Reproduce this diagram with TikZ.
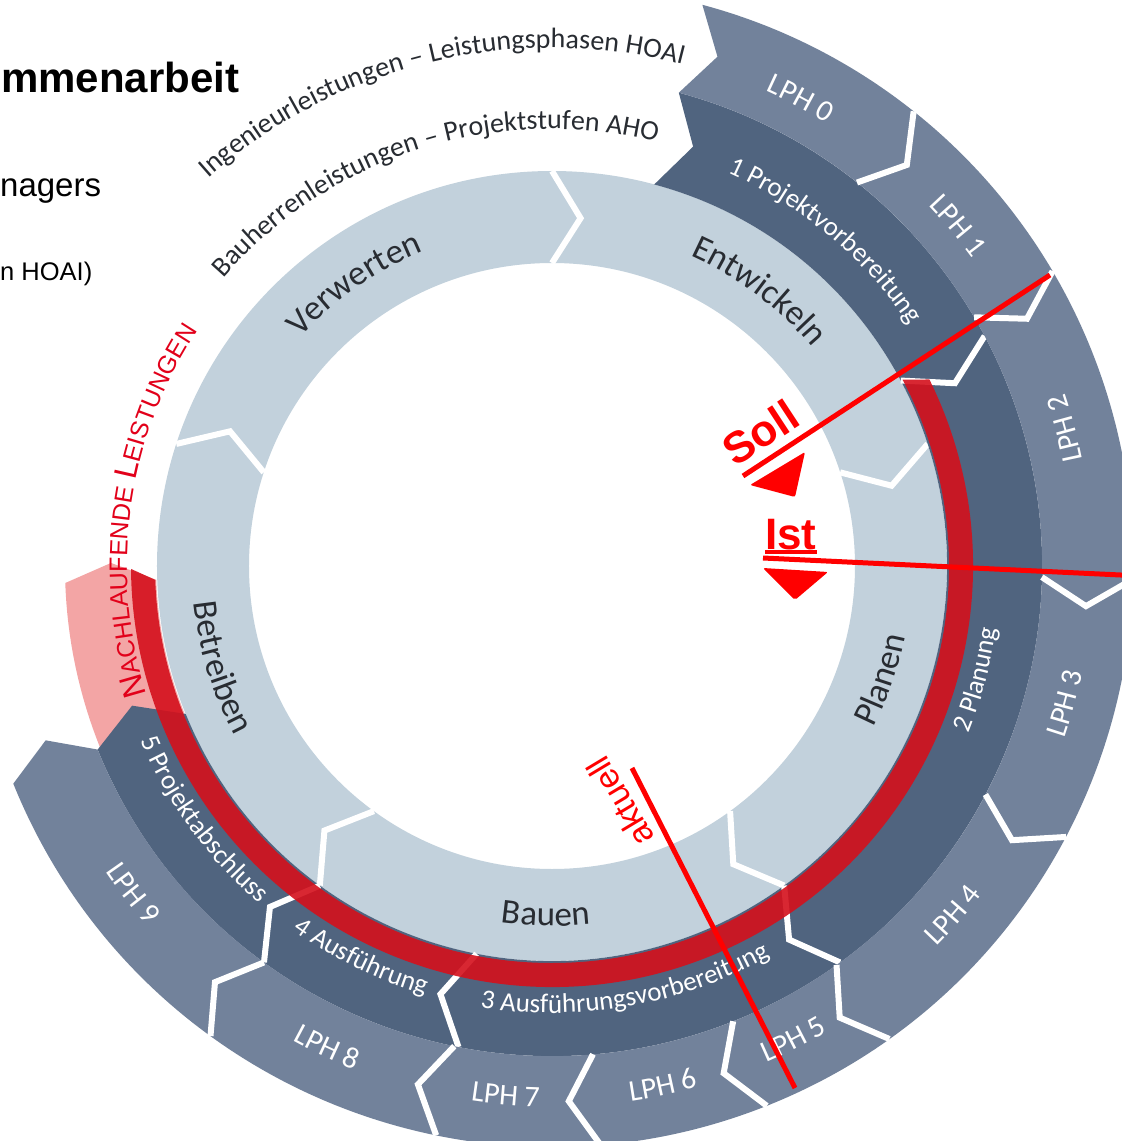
\documentclass[tikz,border=0pt]{standalone}
\usepackage{fontspec}
\setmainfont{Liberation Sans}
\newfontfamily\ringfont{Carlito}
\usetikzlibrary{decorations.text}

\definecolor{lightring}{RGB}{194,209,220}
\definecolor{darkring}{RGB}{80,100,127}
\definecolor{lphring}{RGB}{114,130,155}
\definecolor{bandred}{RGB}{212,16,28}
\definecolor{pinkzone}{RGB}{243,165,165}
\definecolor{markred}{RGB}{255,0,0}
\definecolor{labelgray}{RGB}{40,44,50}
\definecolor{nachred}{RGB}{226,0,26}

\newcommand\lightfmt{\ringfont\fontsize{35}{35}\selectfont\color{labelgray}}
\newcommand\darkfmt{\ringfont\fontsize{27}{27}\selectfont\color{white}}
\newcommand\lphfmt{\ringfont\fontsize{30}{30}\selectfont\color{white}}
\newcommand\outfmt{\ringfont\fontsize{28}{28}\selectfont\color{labelgray}}
\newcommand\nachbig{\fontsize{32}{32}\selectfont\color{nachred}}
\newcommand\nachsmall{\fontsize{25}{25}\selectfont\color{nachred}}

% radius, centre angle, half span, format, text
\newcommand\cwtext[5]{%
  \path[decorate,decoration={text along path,text align=center,text={|#4|#5}}]
    (#2+#3:#1) arc[start angle=#2+#3,end angle=#2-#3,radius=#1];}
\newcommand\ccwtext[5]{%
  \path[decorate,decoration={text along path,text align=center,text={|#4|#5}}]
    (#2-#3:#1) arc[start angle=#2-#3,end angle=#2+#3,radius=#1];}
% angle, r in, r out, tip offset
\newcommand\chevron[4]{%
  \draw[chev] (#1:#2) -- ({#1-#4}:{(#2+#3)/2}) -- (#1:#3);}

\tikzset{
  chev/.style={draw=white,line width=6pt,line join=miter,line cap=butt},
  markline/.style={draw=markred,line width=5pt},
  marktext/.style={font=\bfseries\fontsize{44}{44}\selectfont,text=markred,inner sep=0pt},
  plain/.style={anchor=base west,inner sep=0pt,text=black}
}

\begin{document}
\begin{tikzpicture}[x=1pt,y=1pt]
\useasboundingbox (-552,-575) rectangle (570,566);
\clip (-552,-575) rectangle (570,566);
\fill[white] (-552,-575) rectangle (570,566);

% title fragments
\node[plain,font=\bfseries\fontsize{42}{42}\selectfont] (title) at (-551,473) {mmenarbeit};
\node[plain,font=\fontsize{33}{33}\selectfont] (role) at (-552,369) {nagers};
\node[plain,font=\fontsize{25.5}{25.5}\selectfont] (hoai) at (-552,285) {n HOAI)};

% light ring
\fill[lightring,even odd rule] (0,0) circle[radius=395] (0,0) circle[radius=303];
\foreach \a in {90,18,-54,-126,162} {\chevron{\a}{303}{395}{4.7}}

% pink zone
\fill[pinkzone] (202:487) -- (202:396) arc[start angle=202,end angle=182,radius=396]
  -- (179.6:441) -- (182:487) arc[start angle=182,end angle=202,radius=487] -- cycle;

% dark ring (AHO)
\fill[darkring] (75:490) -- (71.4:442.5) -- (75:395) arc[start angle=75,end angle=-158,radius=395]
  -- (-161.6:442.5) -- (-158:490) arc[start angle=-158,end angle=75,radius=490] -- cycle;
\foreach \a in {28,-54,-101,-126} {\chevron{\a}{395}{490}{3.6}}

% LPH ring
\fill[lphring] (75:581) -- (72:535.5) -- (75:490) arc[start angle=75,end angle=-158,radius=490]
  -- (-161:535.5) -- (-158:581) arc[start angle=-158,end angle=75,radius=581] -- cycle;
\foreach \a in {51.5,30.5,-1.3,-27.8,-54.5,-68.3,-85.2,-101.5,-126} {\chevron{\a}{490}{581}{3}}

% red band
\fill[bandred,fill opacity=0.9] (28:397) -- (26.3:421) arc[start angle=26.3,end angle=-179.6,radius=421]
  -- (-178:397) arc[start angle=-178,end angle=28,radius=397] -- cycle;

% light ring labels
\cwtext{340}{125}{40}{\lightfmt}{Verwerten}
\cwtext{340}{53}{40}{\lightfmt}{Entwickeln}
\ccwtext{360}{-19}{40}{\lightfmt}{Planen}
\ccwtext{360}{-91}{40}{\lightfmt}{Bauen}
\ccwtext{360}{197}{40}{\lightfmt}{Betreiben}

% dark ring labels
\cwtext{431}{50}{40}{\darkfmt}{1 Projektvorbereitung}
\ccwtext{449}{-15}{40}{\darkfmt}{2 Planung}
\ccwtext{447}{-80}{40}{\darkfmt}{3 Ausführungsvorbereitung}
\ccwtext{447}{244}{40}{\darkfmt}{4 Ausführung}
\ccwtext{447}{216}{40}{\darkfmt}{5 Projektabschluss}

% LPH labels
\cwtext{521}{62}{30}{\lphfmt}{LPH 0}
\cwtext{521}{40}{30}{\lphfmt}{LPH 1}
\ccwtext{541}{15}{30}{\lphfmt}{LPH 2}
\ccwtext{541}{-15}{30}{\lphfmt}{LPH 3}
\ccwtext{541}{-41}{30}{\lphfmt}{LPH 4}
\ccwtext{541}{-63}{30}{\lphfmt}{LPH 5}
\ccwtext{541}{-78}{30}{\lphfmt}{LPH 6}
\ccwtext{541}{-95}{30}{\lphfmt}{LPH 7}
\ccwtext{541}{245}{30}{\lphfmt}{LPH 8}
\ccwtext{541}{218}{30}{\lphfmt}{LPH 9}

% outer captions
\cwtext{518}{103.5}{45}{\outfmt}{Ingenieurleistungen – Leistungsphasen HOAI}
\cwtext{437}{107.5}{45}{\outfmt}{Bauherrenleistungen – Projektstufen AHO}
\path[decorate,decoration={text along path,text align=center,
  text={|\nachbig|N|\nachsmall|ACHLAUFENDE |\nachbig|L|\nachsmall|EISTUNGEN}}]
  (212:425) arc[start angle=212,end angle=132,radius=425];

% Soll
\coordinate (sollEnd) at (498,291);
\coordinate (sollStart) at (191,90);
\draw[markline] (sollEnd) -- (sollStart);
\node[marktext,rotate=33.2,anchor=base west] (soll) at (183,98) {Soll};
\fill[markred,rounded corners=2pt] (198,81) -- (253,114) -- (243,69) -- cycle;

% Ist
\node[marktext,anchor=base west] (ist) at (213,17) {Ist};
\draw[markred,line width=4pt] ([yshift=-3pt]ist.base west) -- ([yshift=-3pt]ist.base east);
\coordinate (istStart) at (211,8);
\coordinate (istEnd) at (575,-9.3);
\draw[markline] (istStart) -- (istEnd);
\fill[markred,rounded corners=2pt] (211,-2) -- (276,-6) -- (243,-34) -- cycle;

% aktuell
\coordinate (aktTop) at (80,-202);
\coordinate (aktBot) at (243,-522);
\draw[markline] (aktTop) -- (aktBot);
\node[font=\fontsize{34}{34}\selectfont,text=markred,rotate=121,inner sep=0pt] (akt) at (68,-236) {aktuell};
\end{tikzpicture}
\end{document}
